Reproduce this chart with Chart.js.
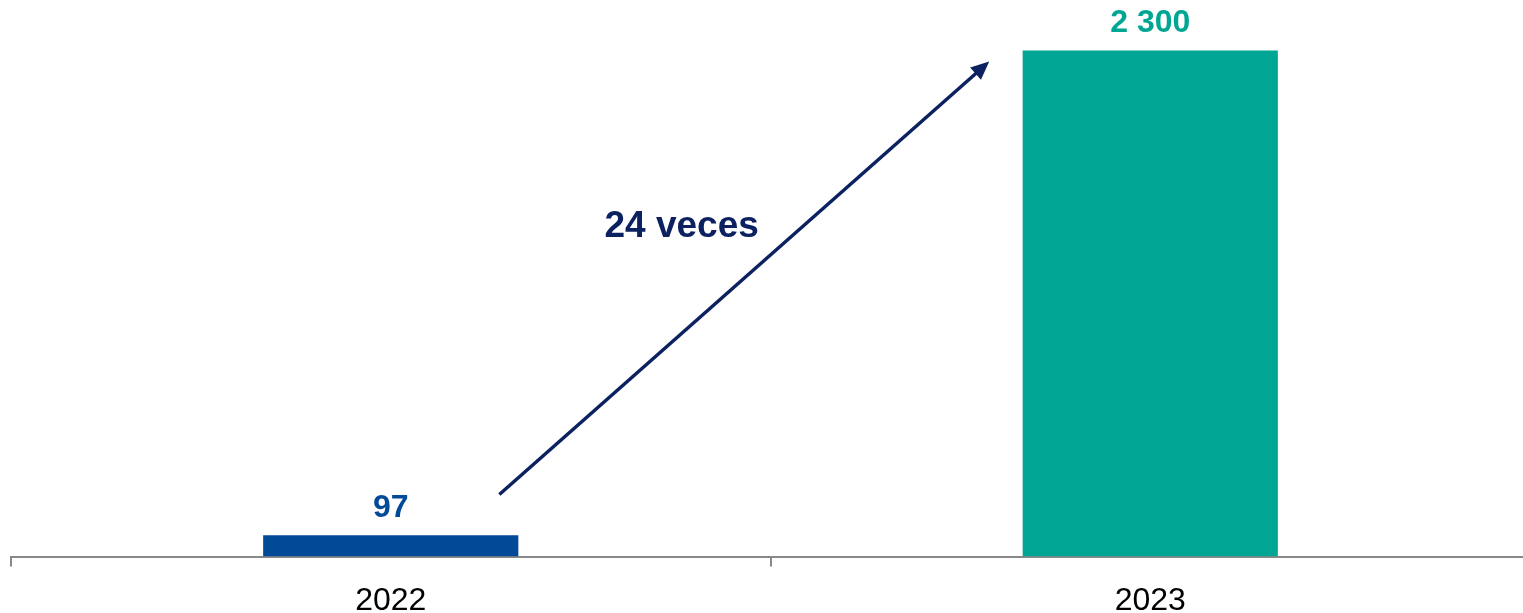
<!DOCTYPE html>
<html>
<head>
<meta charset="utf-8">
<script src="https://cdn.jsdelivr.net/npm/chart.js@4"></script>
<style>
  body { margin: 0; background: #fff; overflow: hidden; }
  #wrap { width: 1530px; height: 635px; }
</style>
</head>
<body>
<div id="wrap"><canvas id="growthChart"></canvas></div>
<script>
// datos
const years = ['2022', '2023'];
const values = [97, 2300];
const barColors = ['#004A98', '#00A693'];
// flecha de crecimiento (en unidades de los ejes: indice de categoria, valor)
const arrowFrom = [0.143, 282];
const arrowTo = [0.788, 2250];
const arrowLabel = '24 veces';
const arrowLabelAt = [0.383, 1500];

function fmt(v) {
  return v.toString().replace(/\B(?=(\d{3})+(?!\d))/g, ' ');
}

const labelsPlugin = {
  id: 'barLabels',
  afterDatasetsDraw(chart) {
    const ctx = chart.ctx;
    const meta = chart.getDatasetMeta(0);
    ctx.save();
    ctx.font = 'bold 32px "Liberation Sans", Arial, sans-serif';
    ctx.textAlign = 'center';
    ctx.textBaseline = 'middle';
    meta.data.forEach((bar, i) => {
      ctx.fillStyle = barColors[i];
      ctx.fillText(fmt(values[i]), bar.x, bar.y - 27);
    });

    // flecha
    const xs = chart.scales.x, ys = chart.scales.y;
    const x1 = xs.getPixelForValue(arrowFrom[0]), y1 = ys.getPixelForValue(arrowFrom[1]);
    const x2 = xs.getPixelForValue(arrowTo[0]), y2 = ys.getPixelForValue(arrowTo[1]);
    const ang = Math.atan2(y2 - y1, x2 - x1);
    const head = 20;
    ctx.strokeStyle = '#0B2160';
    ctx.fillStyle = '#0B2160';
    ctx.lineWidth = 3.5;
    ctx.beginPath();
    ctx.moveTo(x1, y1);
    ctx.lineTo(x2 - Math.cos(ang) * head * 0.8, y2 - Math.sin(ang) * head * 0.8);
    ctx.stroke();
    ctx.beginPath();
    ctx.moveTo(x2, y2);
    ctx.lineTo(x2 - head * Math.cos(ang - 0.42), y2 - head * Math.sin(ang - 0.42));
    ctx.lineTo(x2 - head * Math.cos(ang + 0.42), y2 - head * Math.sin(ang + 0.42));
    ctx.closePath();
    ctx.fill();

    ctx.font = 'bold 37px "Liberation Sans", Arial, sans-serif';
    ctx.fillStyle = '#0B2160';
    ctx.fillText(arrowLabel, xs.getPixelForValue(arrowLabelAt[0]), ys.getPixelForValue(arrowLabelAt[1]));
    ctx.restore();
  }
};

new Chart(document.getElementById('growthChart').getContext('2d'), {
  type: 'bar',
  data: {
    labels: years,
    datasets: [{
      data: values,
      backgroundColor: barColors,
      categoryPercentage: 1,
      barPercentage: 0.336
    }]
  },
  options: {
    responsive: true,
    maintainAspectRatio: false,
    animation: false,
    layout: { padding: { left: 11, right: 0, top: 0, bottom: 0 } },
    plugins: { legend: { display: false }, tooltip: { enabled: false } },
    scales: {
      x: {
        border: { color: '#888888', width: 2 },
        grid: { drawOnChartArea: false, color: '#888888', lineWidth: 2, tickLength: 10 },
        ticks: { color: '#000', font: { family: '"Liberation Sans", Arial, sans-serif', size: 32 }, padding: 15 }
      },
      y: {
        display: false,
        min: 0,
        max: 2530
      }
    }
  },
  plugins: [labelsPlugin]
});
</script>
</body>
</html>
